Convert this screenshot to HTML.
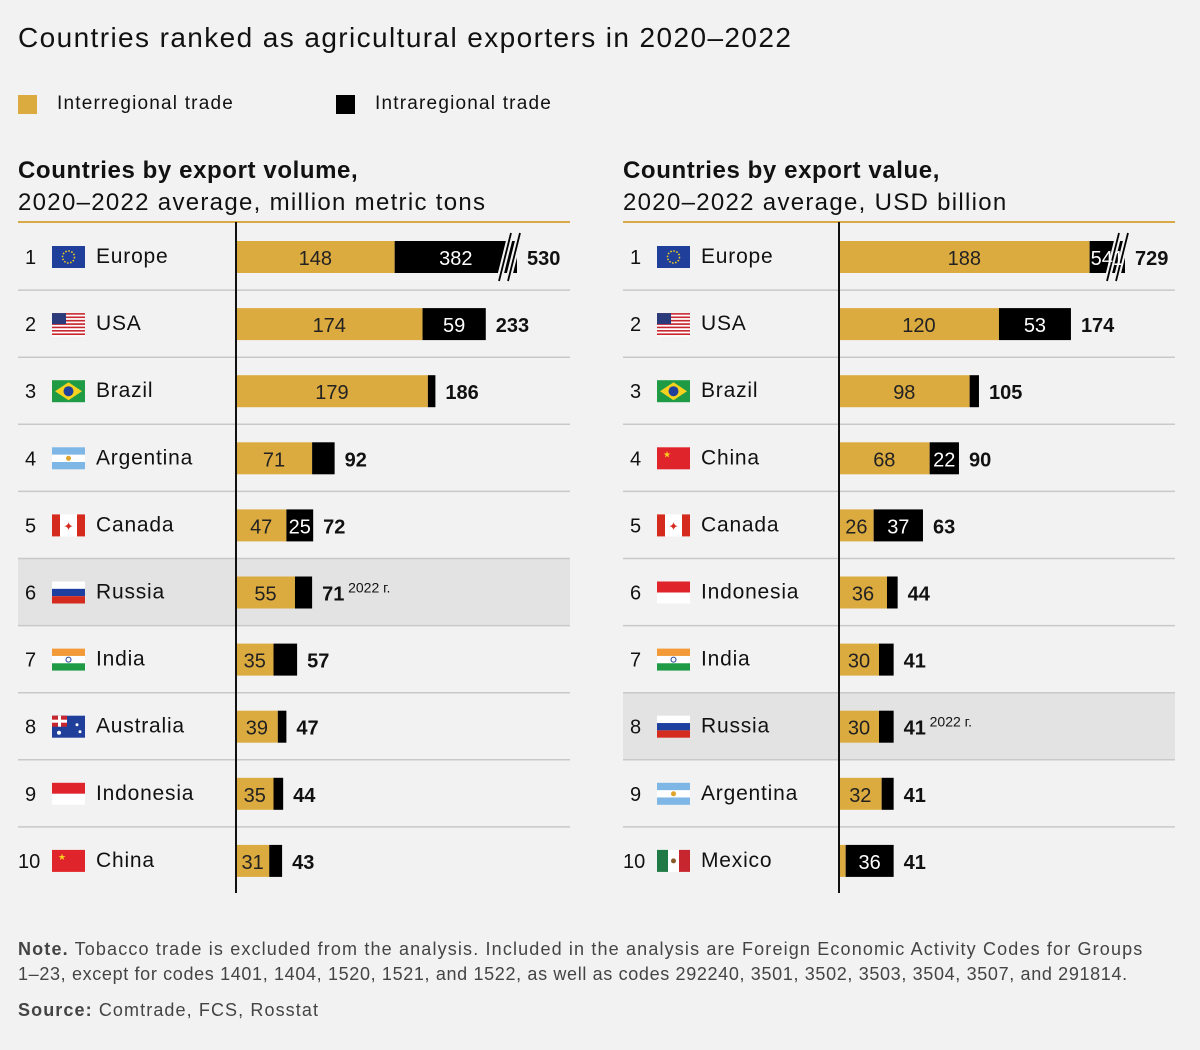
<!DOCTYPE html>
<html><head><meta charset="utf-8">
<style>
body{margin:0;background:#f2f2f2;font-family:"Liberation Sans",sans-serif;color:#111;}
#root{position:relative;width:1200px;height:1050px;overflow:hidden;}
.t{position:absolute;white-space:nowrap;}
</style></head><body>
<div id="root">
<div class="t" style="left:18px;top:22px;font-size:28px;letter-spacing:1.4px;">Countries ranked as agricultural exporters in 2020–2022</div>
<div style="position:absolute;left:18px;top:95px;width:19px;height:19px;background:#dcab40"></div>
<div class="t" style="left:57px;top:93px;font-size:19px;letter-spacing:1.2px;">Interregional trade</div>
<div style="position:absolute;left:336px;top:95px;width:19px;height:19px;background:#000"></div>
<div class="t" style="left:375px;top:93px;font-size:19px;letter-spacing:1.2px;">Intraregional trade</div>
<div class="t" style="left:18px;top:155px;font-size:24px;line-height:32px;letter-spacing:1.3px;"><span style="font-weight:bold;letter-spacing:0.6px">Countries by export volume,</span><br>2020–2022 average, million metric tons</div>
<div class="t" style="left:623px;top:155px;font-size:24px;line-height:32px;letter-spacing:1.3px;"><span style="font-weight:bold;letter-spacing:0.6px">Countries by export value,</span><br>2020–2022 average, USD billion</div>
<div class="t" style="left:18px;top:937px;font-size:18px;line-height:25px;color:#444;letter-spacing:1.15px"><b>Note.</b> Tobacco trade is excluded from the analysis. Included in the analysis are Foreign Economic Activity Codes for Groups<br><span style="letter-spacing:0.65px">1–23, except for codes 1401, 1404, 1520, 1521, and 1522, as well as codes 292240, 3501, 3502, 3503, 3504, 3507, and 291814.</span></div>
<div class="t" style="left:18px;top:1000px;font-size:18px;color:#444;letter-spacing:1.1px"><b>Source:</b> Comtrade, FCS, Rosstat</div>
<svg id="svg" width="1200" height="1050" style="position:absolute;left:0;top:0"></svg>
</div>
<script>
const leftCountries=["Europe","USA","Brazil","Argentina","Canada","Russia","India","Australia","Indonesia","China"];
const leftInter=[148,174,179,71,47,55,35,39,35,31];
const leftTotal=[530,233,186,92,72,71,57,47,44,43];
const rightCountries=["Europe","USA","Brazil","China","Canada","Indonesia","India","Russia","Argentina","Mexico"];
const rightInter=[188,120,98,68,26,36,30,30,32,5];
const rightTotal=[729,174,105,90,63,44,41,41,41,41];
const rightIntraLabels=[541,53,7,22,37,8,11,11,9,36];
const leftIntraLabels=[382,59,7,21,25,16,22,8,9,12];

const NS="http://www.w3.org/2000/svg";
const svg=document.getElementById('svg');
function mk(tag,attrs,parent){const e=document.createElementNS(NS,tag);for(const k in attrs)e.setAttribute(k,attrs[k]);(parent||svg).appendChild(e);return e;}
function txt(x,y,s,attrs){const e=mk('text',Object.assign({x:x,y:y,'font-family':'Liberation Sans, sans-serif'},attrs));e.textContent=s;return e;}

function flag(g,name,x,y){
  const w=33,h=22;
  const r=(xx,yy,ww,hh,f)=>mk('rect',{x:x+xx,y:y+yy,width:ww,height:hh,fill:f},g);
  switch(name){
    case 'Europe': r(0,0,w,h,'#1f3f9a');mk('circle',{cx:x+16.5,cy:y+11,r:6,fill:'none',stroke:'#f6d11e','stroke-width':1.5,'stroke-dasharray':'1.5 1.6'},g);break;
    case 'USA': for(let i=0;i<7;i++){r(0,i*h/6.5,w,h/13,'#c8262e');r(0,i*h/6.5+h/13,w,h/13,'#fff');} r(0,0,14,11,'#2a3a7a');break;
    case 'Brazil': r(0,0,w,h,'#1f9a45');mk('polygon',{points:`${x+3},${y+11} ${x+16.5},${y+2} ${x+30},${y+11} ${x+16.5},${y+20}`,fill:'#f6d11e'},g);mk('circle',{cx:x+16.5,cy:y+11,r:5,fill:'#1f3f9a'},g);break;
    case 'Argentina': r(0,0,w,h,'#7eb6e6');r(0,h/3,w,h/3,'#fff');mk('circle',{cx:x+16.5,cy:y+11,r:2.5,fill:'#e0a32e'},g);break;
    case 'Canada': r(0,0,w,h,'#fff');r(0,0,8,h,'#d52b1e');r(25,0,8,h,'#d52b1e');txt(x+16.5,y+16,'✦',{fill:'#d52b1e','font-size':12,'text-anchor':'middle'});break;
    case 'Russia': r(0,0,w,h,'#fff');r(0,h/3,w,h/3,'#1c3fa0');r(0,2*h/3,w,h/3,'#d52b1e');break;
    case 'India': r(0,0,w,h,'#fff');r(0,0,w,h/3,'#f29a38');r(0,2*h/3,w,h/3,'#1f9a45');mk('circle',{cx:x+16.5,cy:y+11,r:2.5,fill:'none',stroke:'#1f3f9a'},g);break;
    case 'Australia': r(0,0,w,h,'#1f3f9a');r(0,0,15,11,'#c8262e');r(0,4,15,3,'#fff');r(6,0,3,11,'#fff');mk('circle',{cx:x+25,cy:y+9,r:1.5,fill:'#fff'},g);mk('circle',{cx:x+7,cy:y+17,r:2,fill:'#fff'},g);mk('circle',{cx:x+28,cy:y+16,r:1.5,fill:'#fff'},g);break;
    case 'Indonesia': r(0,0,w,h/2,'#e0242b');r(0,h/2,w,h/2,'#fff');break;
    case 'China': r(0,0,w,h,'#e0242b');txt(x+6,y+10,'★',{fill:'#f6d11e','font-size':9});break;
    case 'Mexico': r(0,0,11,h,'#1f7a45');r(11,0,11,h,'#fff');r(22,0,11,h,'#c8262e');mk('circle',{cx:x+16.5,cy:y+11,r:2.5,fill:'#8a5a2b'},g);break;
  }
}

function panel(side,x0,axisX,scale,capPx,countries,inter,total,intraLabels,highlight){
  const W=552, rowH=67.1, top=223;
  mk('line',{x1:x0,x2:x0+W,y1:222,y2:222,stroke:'#d9a847','stroke-width':2});
  const hl=mk('rect',{x:x0,y:top+highlight*rowH,width:W,height:rowH,fill:'#e3e3e3'});
  
  
  countries.forEach((c,i)=>{
    const g=mk('g',{});
    
    
    const cy=top+i*rowH+34;
    if(i<9) mk('line',{x1:x0,x2:x0+W,y1:top+(i+1)*rowH,y2:top+(i+1)*rowH,stroke:'#c9c9c9','stroke-width':1.5},g);
    g.appendChild(txt(x0+(i==9?0:7),cy+7,String(i+1),{'font-size':20,fill:'#111'}));
    flag(g,c,x0+34,cy-11);
    g.appendChild(txt(x0+78,cy+6,c,{'font-size':21,fill:'#111','letter-spacing':0.8}));
    const gw=inter[i]*scale;
    let tw=total[i]*scale, capped=false;
    if(tw>capPx){tw=capPx;capped=true;}
    const bh=32,by=cy-16;
    const gb=mk('rect',{x:axisX,y:by,width:gw,height:bh,fill:'#dcab40'},g);
    
    
    const bb=mk('rect',{x:axisX+gw,y:by,width:Math.max(tw-gw,0),height:bh,fill:'#000'},g);
    
    
    if(gw>=25) g.appendChild(txt(axisX+gw/2,cy+8,String(inter[i]),{'font-size':20,fill:'#222','text-anchor':'middle'}));
    if(capped){
      const bx=axisX+tw-12;
      [0,9].forEach(d=>{
        mk('line',{x1:bx+d-6,y1:by+40,x2:bx+d+6,y2:by-8,stroke:'#f2f2f2','stroke-width':6},g);
        mk('line',{x1:bx+d-6,y1:by+40,x2:bx+d+6,y2:by-8,stroke:'#000','stroke-width':1.8},g);
      });
    }
    if(tw-gw>=24) g.appendChild(txt(axisX+(gw+tw)/2,cy+8,String(intraLabels[i]),{'font-size':20,fill:'#fff','text-anchor':'middle'}));
    const tl=txt(axisX+tw+10,cy+8,String(total[i]),{'font-size':20,'font-weight':'bold',fill:'#111'});
    
    g.appendChild(tl);
    if(i===highlight){ g.appendChild(txt(axisX+tw+36,cy,'2022 г.',{'font-size':14,fill:'#111'})); }
  });
  mk('line',{x1:axisX,x2:axisX,y1:222,y2:893,stroke:'#111','stroke-width':2});
}
panel('left',18,236,1.072,281,leftCountries,leftInter,leftTotal,leftIntraLabels,5);
panel('right',623,839,1.333,286,rightCountries,rightInter,rightTotal,rightIntraLabels,7);
</script>
</body></html>
